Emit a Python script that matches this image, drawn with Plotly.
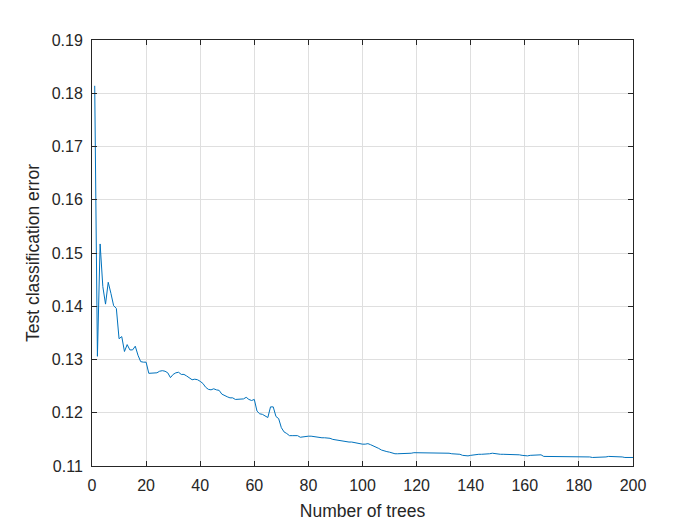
import plotly.graph_objects as go

num_trees = list(range(1, 201))

test_error = [
    # 1-10
    0.1814, 0.1306, 0.1517, 0.1437, 0.1404, 0.1445, 0.1424, 0.1401, 0.1396, 0.1339,
    # 11-20
    0.1343, 0.1315, 0.1328, 0.1318, 0.1318, 0.1325, 0.1308, 0.1296, 0.1295, 0.1295,
    # 21-30
    0.1274, 0.1274, 0.1275, 0.1275, 0.1278, 0.1279, 0.1278, 0.1275, 0.1266, 0.1272,
    # 31-40
    0.1275, 0.1276, 0.1272, 0.1272, 0.1269, 0.1265, 0.1262, 0.1263, 0.1262, 0.1259,
    # 41-50
    0.1255, 0.1248, 0.1244, 0.1243, 0.1245, 0.1243, 0.1242, 0.1235, 0.1232, 0.1230,
    # 51-60
    0.1228, 0.1228, 0.1225, 0.1225, 0.1225, 0.1226, 0.1229, 0.1225, 0.1223, 0.1225,
    # 61-70
    0.1203, 0.1198, 0.1197, 0.1194, 0.1191, 0.1211, 0.1211, 0.1193, 0.1189, 0.1172,
    # 71-80
    0.1164, 0.1161, 0.1157, 0.1157, 0.1157, 0.1157, 0.1154, 0.1155, 0.1155, 0.1156,
    # 81-90
    0.1156, 0.1155, 0.1155, 0.1154, 0.1153, 0.1153, 0.1153, 0.1152, 0.1150, 0.1149,
    # 91-100
    0.1149, 0.1147, 0.1147, 0.1146, 0.1145, 0.1145, 0.1144, 0.1142, 0.1141, 0.1141,
    # 101-110
    0.1141, 0.1142, 0.1140, 0.1138, 0.1136, 0.1133, 0.1130, 0.1128, 0.1127, 0.1126,
    # 111-120
    0.1124, 0.1123, 0.1123, 0.1123, 0.1124, 0.1124, 0.1124, 0.1124, 0.1125, 0.1125,
    # 121-130
    0.1125, 0.1125, 0.1125, 0.1125, 0.1125, 0.1125, 0.1125, 0.1125, 0.1125, 0.1125,
    # 131-140
    0.1124, 0.1124, 0.1123, 0.1123, 0.1122, 0.1122, 0.1120, 0.1119, 0.1119, 0.1120,
    # 141-150
    0.1121, 0.1122, 0.1122, 0.1122, 0.1122, 0.1122, 0.1123, 0.1124, 0.1123, 0.1122,
    # 151-160
    0.1122, 0.1122, 0.1122, 0.1122, 0.1122, 0.1122, 0.1121, 0.1121, 0.1120, 0.1119,
    # 161-170
    0.1119, 0.1120, 0.1120, 0.1120, 0.1121, 0.1121, 0.1118, 0.1118, 0.1118, 0.1118,
    # 171-180
    0.1118, 0.1118, 0.1118, 0.1118, 0.1118, 0.1118, 0.1118, 0.1118, 0.1117, 0.1117,
    # 181-190
    0.1117, 0.1117, 0.1117, 0.1117, 0.1116, 0.1116, 0.1116, 0.1117, 0.1117, 0.1117,
    # 191-200
    0.1118, 0.1118, 0.1117, 0.1117, 0.1117, 0.1117, 0.1116, 0.1116, 0.1116, 0.1116,
]

x_ticks = [0, 20, 40, 60, 80, 100, 120, 140, 160, 180, 200]
y_ticks = [0.11, 0.12, 0.13, 0.14, 0.15, 0.16, 0.17, 0.18, 0.19]
y_tick_labels = ["0.11", "0.12", "0.13", "0.14", "0.15", "0.16", "0.17", "0.18", "0.19"]

FONT = "Liberation Sans, Arial, Helvetica, sans-serif"

fig = go.Figure()
fig.add_trace(go.Scatter(
    x=num_trees, y=test_error, mode="lines",
    line=dict(color="#0072BD", width=1),
    showlegend=False, hoverinfo="skip",
))

axis_common = dict(
    showline=True, linecolor="#262626", linewidth=1, mirror="ticks",
    ticks="inside", ticklen=5, tickcolor="#262626", tickwidth=1,
    showgrid=True, gridcolor="#DFDFDF", gridwidth=1,
    zeroline=False, automargin=False,
    tickfont=dict(family=FONT, size=16, color="#262626"),
)

fig.update_xaxes(
    range=[0, 200], tickvals=x_ticks, ticktext=[str(v) for v in x_ticks],
    ticklabelstandoff=5,
    title=dict(text="Number of trees", standoff=11,
               font=dict(family=FONT, size=17.5, color="#262626")),
    **axis_common,
)
fig.update_yaxes(
    range=[0.11, 0.19], tickvals=y_ticks, ticktext=y_tick_labels,
    ticklabelstandoff=5,
    title=dict(text="Test classification error", standoff=7,
               font=dict(family=FONT, size=17.5, color="#262626")),
    **axis_common,
)

fig.update_layout(
    width=692, height=517,
    margin=dict(l=84, r=67, t=32, b=59, pad=0),
    paper_bgcolor="white", plot_bgcolor="white",
)

fig.write_html("out.html")
